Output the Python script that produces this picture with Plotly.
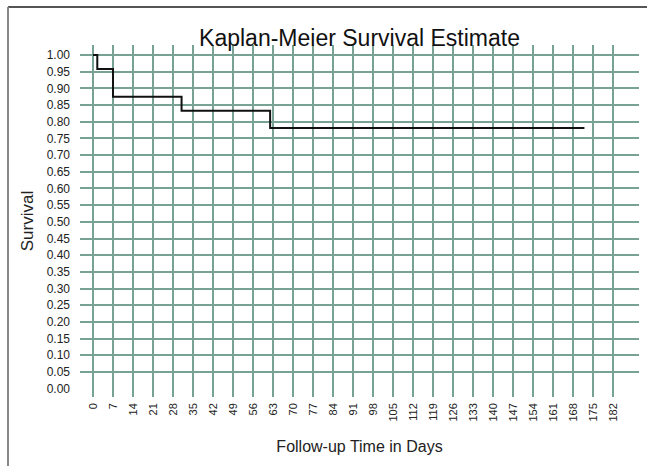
import plotly.graph_objects as go

# Step function data (Kaplan-Meier)
days = [0, 1.5, 7, 31, 62, 172]
survival = [1.0, 0.958, 0.875, 0.833, 0.781, 0.781]

x_ticks = list(range(0, 183, 7))
y_ticks = [round(i * 0.05, 2) for i in range(21)]
y_labels = [f"{v:.2f}" for v in y_ticks]

grid_color = "#78a293"

fig = go.Figure()
fig.add_trace(go.Scatter(
    x=days, y=survival, mode="lines", line=dict(shape="hv", color="#111111", width=2),
    showlegend=False, hoverinfo="skip"))

PW, PH = 559, 352
fig.update_layout(
    width=647, height=466,
    paper_bgcolor="white", plot_bgcolor="white",
    margin=dict(l=80, r=8, t=45, b=69, autoexpand=False),
    font=dict(family="Liberation Sans, Arial, sans-serif", color="#222222", size=11),
    title=dict(text="Kaplan-Meier Survival Estimate", x=(80 + 639) / 2 / 647, xanchor="center",
               y=1 - 38 / 466, yanchor="middle", yref="container",
               font=dict(size=23, color="#111111")),
    shapes=[
        dict(type="line", xref="paper", yref="paper", x0=-72 / PW, x1=1 + 20 / PW,
             y0=1 + 38 / PH, y1=1 + 38 / PH, line=dict(color="#555555", width=2)),
        dict(type="line", xref="paper", yref="paper", x0=-72 / PW, x1=-72 / PW,
             y0=1 + 38 / PH, y1=-75 / PH, line=dict(color="#888888", width=2)),
    ],
)

fig.update_xaxes(
    range=[-4.55, 191.1], tickvals=x_ticks, ticktext=[str(v) for v in x_ticks],
    tickangle=-90, showgrid=True, gridcolor=grid_color, gridwidth=2,
    zeroline=True, zerolinecolor=grid_color, zerolinewidth=2,
    showline=False, ticks="", ticklabelstandoff=3, automargin=False,
    tickfont=dict(size=11, color="#222222"),
    title=dict(text="Follow-up Time in Days", font=dict(size=16, color="#222222"), standoff=20),
    fixedrange=True,
)
fig.update_yaxes(
    range=[-0.025, 1.03], tickvals=y_ticks, ticktext=y_labels,
    showgrid=True, gridcolor=grid_color, gridwidth=2,
    zeroline=True, zerolinecolor="rgba(0,0,0,0)", zerolinewidth=2,
    showline=False, ticks="", ticklabelstandoff=9, automargin=False,
    tickfont=dict(size=12, color="#222222"),
    title=dict(text="Survival", font=dict(size=17, color="#222222"), standoff=8),
    fixedrange=True,
)

fig.write_html("out.html", config={"displayModeBar": False, "staticPlot": True},
               post_script="document.body.style.margin='0';")
